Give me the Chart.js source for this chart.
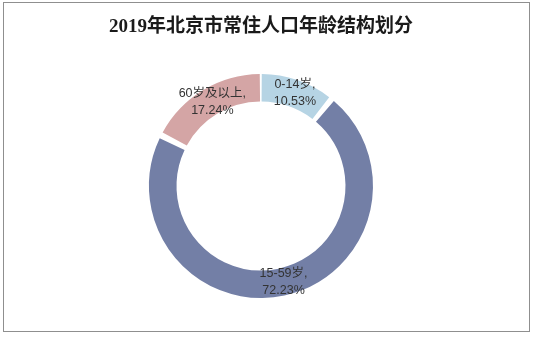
<!DOCTYPE html>
<html>
<head>
<meta charset="utf-8">
<script src="https://cdn.jsdelivr.net/npm/chart.js@4"></script>
<style>
  html, body { margin: 0; padding: 0; background: #fff; }
  #wrap { position: relative; width: 535px; height: 338px; }
  #frame { position: absolute; left: 3px; top: 2px; width: 527px; height: 330px; border: 1px solid #8f8f8f; box-sizing: border-box; pointer-events: none; }
  canvas { position: absolute; left: 0; top: 0; }
</style>
</head>
<body>
<div id="wrap">
  <canvas id="c" width="535" height="338"></canvas>
  <div id="frame"></div>
</div>
<script>
const titleText = "2019年北京市常住人口年龄结构划分";
const categories = ["0-14岁", "15-59岁", "60岁及以上"];
const shares = [10.53, 72.23, 17.24];
const colors = ["#b6d4e4", "#737fa6", "#d4a5a5"];

const labelPlugin = {
  id: "arcLabels",
  afterDatasetsDraw(chart) {
    const ctx = chart.ctx;
    const meta = chart.getDatasetMeta(0);
    ctx.save();
    ctx.font = "12.5px 'Liberation Sans', Arial, 'Noto Sans CJK SC', sans-serif";
    ctx.fillStyle = "#333333";
    ctx.textAlign = "center";
    ctx.textBaseline = "middle";
    meta.data.forEach((arc, i) => {
      const p = arc.tooltipPosition();
      ctx.fillText(categories[i] + ",", p.x + 2, p.y - 8.5);
      ctx.fillText(shares[i].toFixed(2) + "%", p.x + 2, p.y + 8.5);
    });
    ctx.restore();
  }
};

new Chart(document.getElementById("c"), {
  type: "doughnut",
  data: {
    labels: categories,
    datasets: [{
      data: shares,
      backgroundColor: colors,
      borderWidth: 0,
      spacing: 4
    }]
  },
  options: {
    responsive: false,
    animation: false,
    cutout: "75%",
    layout: { padding: { top: 0, bottom: 40, left: 0, right: 13 } },
    plugins: {
      legend: { display: false },
      tooltip: { enabled: false },
      title: {
        display: true,
        text: titleText,
        color: "#1a1a1a",
        font: { family: "'Liberation Serif', 'Noto Sans CJK SC', serif", size: 19, weight: "bold", lineHeight: 1.2 },
        padding: { top: 15.5, bottom: 35.7 }
      }
    }
  },
  plugins: [labelPlugin]
});
</script>
</body>
</html>
